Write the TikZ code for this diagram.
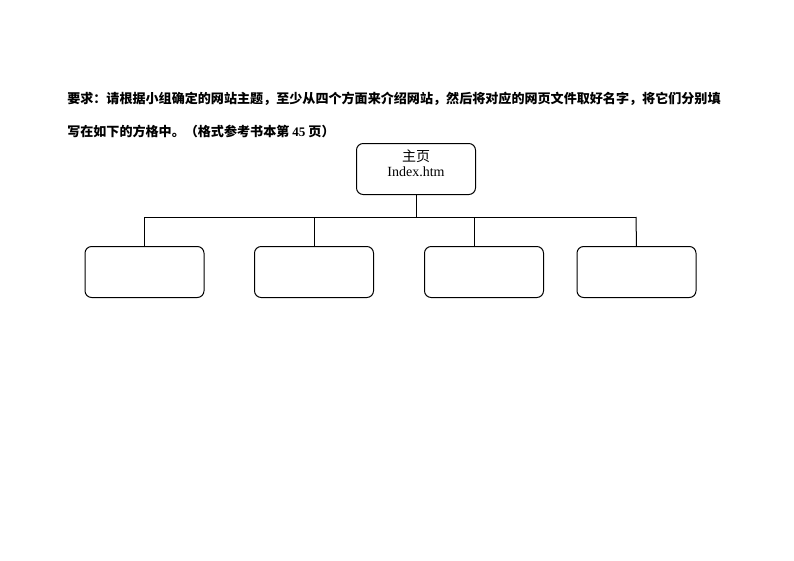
\documentclass[tikz,border=0pt]{standalone}
\usepackage{fontspec}
\setmainfont{Liberation Serif}
\newfontfamily\cjk{Noto Sans CJK SC}
\begin{document}
\begin{tikzpicture}[x=0.75pt,y=-0.75pt,
  pagebox/.style={draw=black,line width=0.75pt,rounded corners=5pt,inner sep=0pt},
  link/.style={draw=black,line width=0.75pt},
  headline/.style={anchor=west,inner sep=0pt,font=\fontsize{9.8pt}{11pt}\selectfont\cjk\bfseries}]
\useasboundingbox (0,0) rectangle (794,561);
\node[headline] (l1) at (67,99) {要求：请根据小组确定的网站主题，至少从四个方面来介绍网站，然后将对应的网页文件取好名字，将它们分别填};
\node[headline] (l2) at (67,131) {写在如下的方格中。（格式参考书本第 {\rmfamily 45} 页）};
\node[pagebox,minimum width=119*0.75pt,minimum height=51*0.75pt] (top) at (416,169) {};
\node[font=\fontsize{10.5pt}{12pt}\selectfont,align=center,inner sep=0pt] (toptext) at (416,163.5) {{\cjk 主页}\\[-1pt]Index.htm};
\node[pagebox,minimum width=119*0.75pt,minimum height=51*0.75pt] (b1) at (144.5,272) {};
\node[pagebox,minimum width=119*0.75pt,minimum height=51*0.75pt] (b2) at (314,272) {};
\node[pagebox,minimum width=119*0.75pt,minimum height=51*0.75pt] (b3) at (484,272) {};
\node[pagebox,minimum width=119*0.75pt,minimum height=51*0.75pt] (b4) at (636.5,272) {};
\coordinate (hub) at (416,217);
\coordinate (j1) at (144.5,217);
\coordinate (j2) at (314,217);
\coordinate (j3) at (474.5,217);
\coordinate (j4) at (636,217);
\coordinate (e3) at (474.5,246.5);
\draw[link] (top.south) -- (hub);
\draw[link] (j1) -- (j4);
\draw[link] (j1) -- (b1.north);
\draw[link] (j2) -- (b2.north);
\draw[link] (j3) -- (e3);
\draw[link] (j4) -- (b4.north);
\end{tikzpicture}
\end{document}
